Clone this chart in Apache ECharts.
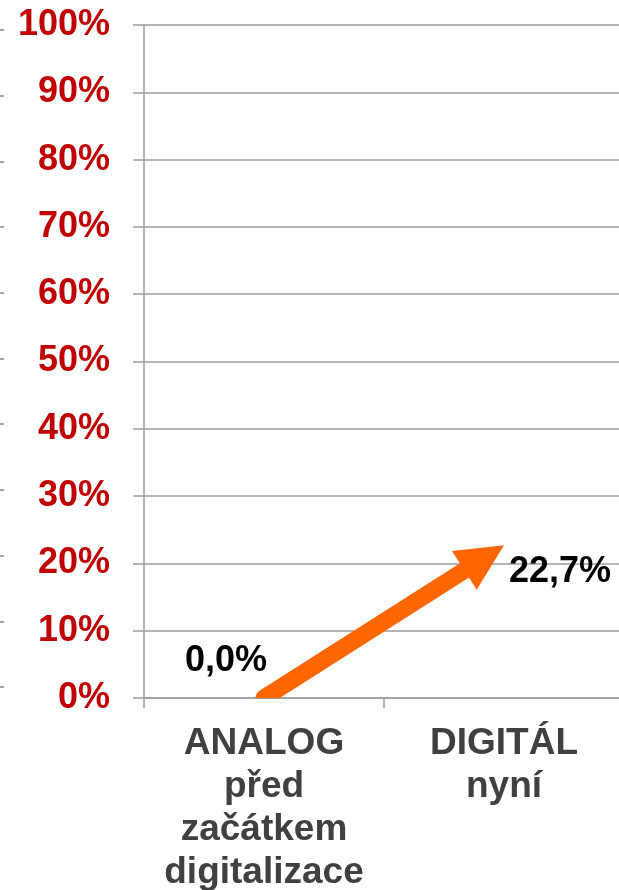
<!DOCTYPE html>
<html>
<head>
<meta charset="utf-8">
<script src="https://cdn.jsdelivr.net/npm/echarts@6/dist/echarts.min.js"></script>
<style>
  html, body { margin: 0; padding: 0; background: #fff; }
  #chart { width: 619px; height: 890px; }
</style>
</head>
<body>
<div id="chart"></div>
<script>
const categories = ['ANALOG\npřed\nzačátkem\ndigitalizace', 'DIGITÁL\nnyní']
const shareValues = [0.0, 22.7]
const yMin = 0
const yMax = 100
const yStep = 10

const fontFamily = '"Liberation Sans", Arial, sans-serif'
const gridGray = '#9d9d9d'
const arrowOrange = '#ff6600'

// label offsets relative to each point (px)
const labelOffsets = [[-38, -37], [56, 27]]

const fmtPct = v => v.toFixed(1).replace('.', ',') + '%'

const chart = echarts.init(document.getElementById('chart'))

// draws the trend arrow between the two points through the axis scales
function renderArrow(params, api) {
  const p0 = api.coord([api.value(0), api.value(1)])
  const p1 = api.coord([api.value(2), api.value(3)])
  const dx = p1[0] - p0[0]
  const dy = p1[1] - p0[1]
  const len = Math.sqrt(dx * dx + dy * dy)
  const ux = dx / len, uy = dy / len
  const nx = -uy, ny = ux
  const headLen = 47
  const headHalf = 23
  const bx = p1[0] - ux * headLen
  const by = p1[1] - uy * headLen
  const cs = params.coordSys
  return {
    type: 'group',
    clipPath: { type: 'rect', shape: { x: cs.x, y: cs.y, width: cs.width, height: cs.height } },
    children: [
      {
        type: 'line',
        shape: { x1: p0[0], y1: p0[1], x2: bx + ux * 3, y2: by + uy * 3 },
        style: { stroke: arrowOrange, lineWidth: 17, lineCap: 'round' }
      },
      {
        type: 'polygon',
        shape: {
          points: [
            [p1[0], p1[1]],
            [bx + nx * headHalf, by + ny * headHalf],
            [bx - nx * headHalf, by - ny * headHalf]
          ]
        },
        style: { fill: arrowOrange }
      }
    ]
  }
}

chart.setOption({
  animation: false,
  backgroundColor: '#fff',
  grid: [
    { left: 144, top: 25, bottom: 192, width: 480, outerBoundsMode: 'none', containLabel: false },
    // cut-off axis at the left edge
    { left: -20, top: 30, bottom: 203, width: 10, outerBoundsMode: 'none', containLabel: false }
  ],
  xAxis: [
    {
      type: 'category',
      data: categories,
      boundaryGap: true,
      axisLine: { lineStyle: { color: gridGray, width: 1.5 } },
      axisTick: { show: true, length: 10, lineStyle: { color: gridGray, width: 1.5 } },
      axisLabel: {
        interval: 0,
        margin: 24,
        color: '#404040',
        fontFamily,
        fontWeight: 'bold',
        fontSize: 37,
        lineHeight: 43
      }
    },
    { type: 'value', gridIndex: 1, show: false }
  ],
  yAxis: [
    {
      type: 'value',
      min: yMin,
      max: yMax,
      interval: yStep,
      axisLine: { show: true, lineStyle: { color: gridGray, width: 1.5 } },
      axisTick: { show: true, length: 11, lineStyle: { color: gridGray, width: 1.5 } },
      splitLine: { show: true, lineStyle: { color: gridGray, width: 1.5 } },
      axisLabel: {
        formatter: '{value}%',
        margin: 34,
        color: '#c00000',
        fontFamily,
        fontWeight: 'bold',
        fontSize: 36
      }
    },
    {
      type: 'value',
      gridIndex: 1,
      min: yMin,
      max: yMax,
      interval: yStep,
      axisLine: { show: false },
      axisTick: { show: true, inside: true, length: 24, lineStyle: { color: '#8a8a8a', width: 1.5 } },
      axisLabel: { show: false },
      splitLine: { show: false }
    }
  ],
  series: [
    {
      type: 'custom',
      silent: true,
      renderItem: renderArrow,
      data: [[0, shareValues[0], 1, shareValues[1]]],
      z: 3
    },
    {
      type: 'scatter',
      silent: true,
      symbolSize: 0,
      itemStyle: { opacity: 1 },
      data: shareValues.map((v, i) => ({ value: v, label: { offset: labelOffsets[i] } })),
      label: {
        show: true,
        position: 'inside',
        formatter: p => fmtPct(p.value),
        color: '#000',
        fontFamily,
        fontWeight: 'bold',
        fontSize: 36
      },
      z: 4
    }
  ]
})
</script>
</body>
</html>
